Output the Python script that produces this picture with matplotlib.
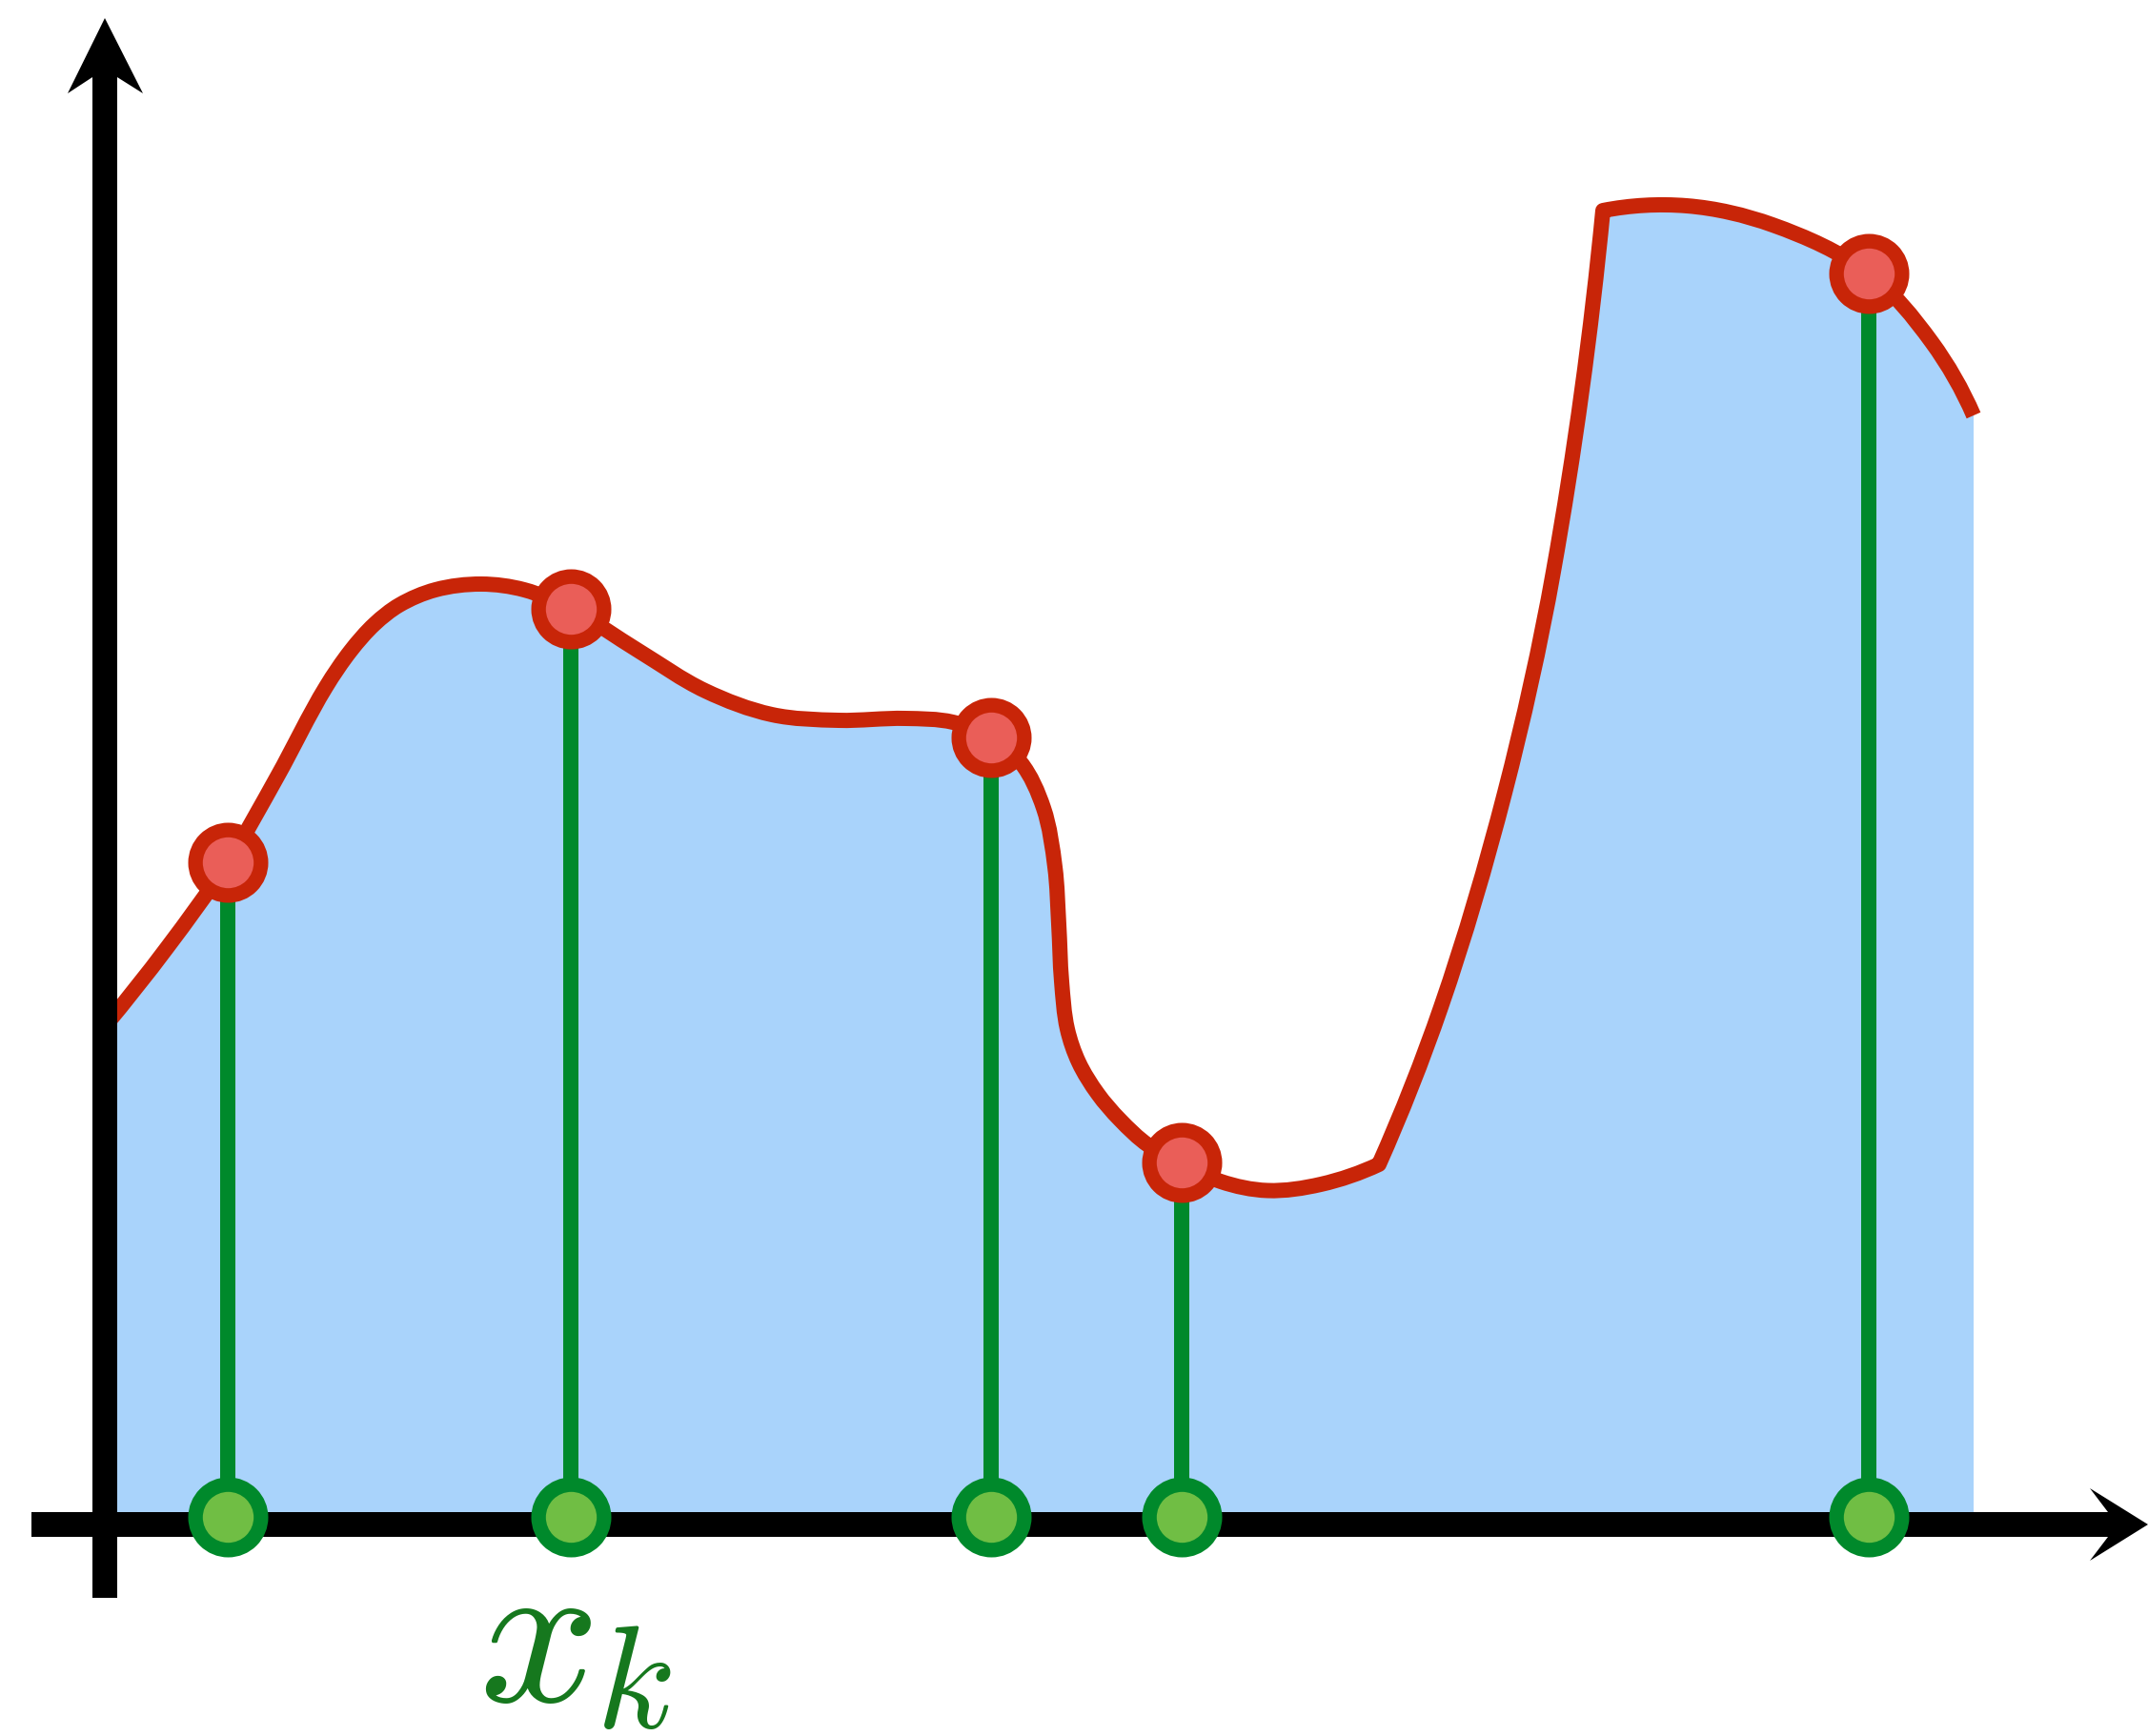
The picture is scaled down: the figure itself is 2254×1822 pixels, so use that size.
import math
import matplotlib
matplotlib.use("Agg")
import matplotlib.pyplot as plt
from matplotlib.patches import Polygon, PathPatch
from matplotlib.path import Path

plt.rcParams['mathtext.fontset'] = 'cm'

# ---- data (axis crossing at origin) ----
# smooth part of the function, up to the first kink
curve1_x = [0.00, 0.65, 1.29, 1.81, 2.32, 2.58, 2.83, 3.09, 3.47, 3.95, 4.40, 4.89,
            5.60, 6.30, 7.00, 7.70, 8.40, 8.90, 9.30, 9.61, 9.85, 9.97, 10.01,
            10.04, 10.10, 10.22, 10.42, 10.65, 10.95, 11.30, 11.71, 12.20, 12.76, 13.37]
curve1_y = [5.23, 6.05, 6.95, 7.85, 8.79, 9.17, 9.45, 9.65, 9.81, 9.87, 9.81, 9.61,
            9.17, 8.75, 8.50, 8.44, 8.46, 8.42, 8.26, 8.00, 7.52, 6.90, 6.30,
            5.70, 5.20, 4.85, 4.52, 4.25, 3.98, 3.80, 3.60, 3.505, 3.57, 3.78]
# steep rise between the two kinks
curve2_x = [13.37, 14.02, 14.69, 15.20, 15.72]
curve2_y = [3.78, 5.43, 7.68, 10.00, 13.79]
# final arc
curve3_x = [15.72, 16.60, 17.50, 18.51, 19.17, 19.61]
curve3_y = [13.79, 13.84, 13.64, 13.13, 12.41, 11.64]

# sample points x_k and f(x_k)
xk = [1.29, 4.89, 9.30, 11.30, 18.51]
fk = [6.95, 9.61, 8.26, 3.80, 13.13]
xk_base = 0.08

label_main = r'$x$'
label_sub = r'$k$'

# ---- colours ----
FILL = '#A9D3FB'
RED = '#C82508'
RED_FILL = '#EA5E58'
GREEN = '#00892B'
GREEN_FILL = '#70BE44'
LABEL_GREEN = '#16781E'

PX = 72 / 100.0  # points per pixel at dpi 100


def _unit(vx, vy):
    n = math.hypot(vx, vy)
    return vx / n, vy / n


def smooth_segment(xs, ys):
    """Bezier (CURVE4) pieces of a smooth path through the given points."""
    pts = list(zip(xs, ys))
    n = len(pts)
    chords = [_unit(pts[i + 1][0] - pts[i][0], pts[i + 1][1] - pts[i][1]) for i in range(n - 1)]
    lens = [math.hypot(pts[i + 1][0] - pts[i][0], pts[i + 1][1] - pts[i][1]) for i in range(n - 1)]
    tans = [None] * n
    for i in range(1, n - 1):
        tans[i] = _unit(chords[i - 1][0] + chords[i][0], chords[i - 1][1] + chords[i][1])
    if n > 2:
        u, t = chords[0], tans[1]
        d = u[0] * t[0] + u[1] * t[1]
        tans[0] = _unit(2 * u[0] * d - t[0], 2 * u[1] * d - t[1])
        u, t = chords[-1], tans[n - 2]
        d = u[0] * t[0] + u[1] * t[1]
        tans[-1] = _unit(2 * u[0] * d - t[0], 2 * u[1] * d - t[1])
    else:
        tans[0] = tans[1] = chords[0]
    verts, codes = [], []
    for i in range(n - 1):
        L = lens[i] / 3.0
        c1 = (pts[i][0] + tans[i][0] * L, pts[i][1] + tans[i][1] * L)
        c2 = (pts[i + 1][0] - tans[i + 1][0] * L, pts[i + 1][1] - tans[i + 1][1] * L)
        verts += [c1, c2, pts[i + 1]]
        codes += [Path.CURVE4] * 3
    return verts, codes


verts = [(curve1_x[0], curve1_y[0])]
codes = [Path.MOVETO]
for sx, sy in ((curve1_x, curve1_y), (curve2_x, curve2_y), (curve3_x, curve3_y)):
    v, c = smooth_segment(sx, sy)
    verts += v
    codes += c

fig = plt.figure(figsize=(22.54, 18.22), dpi=100)
ax = fig.add_axes([0, 0, 1, 1])
ax.set_xlim(-1.10, 21.44)
ax.set_ylim(-2.22, 16.00)
ax.axis('off')

fill_verts = verts + [(curve3_x[-1], 0), (curve1_x[0], 0), (curve1_x[0], 0)]
fill_codes = codes + [Path.LINETO, Path.LINETO, Path.CLOSEPOLY]
ax.add_patch(PathPatch(Path(fill_verts, fill_codes), facecolor=FILL,
                       edgecolor='none', zorder=1))
ax.add_patch(PathPatch(Path(verts, codes), facecolor='none', edgecolor=RED,
                       linewidth=16 * PX, joinstyle='round', capstyle='butt',
                       zorder=2))

for x, y in zip(xk, fk):
    ax.plot([x, x], [xk_base, y], color=GREEN, linewidth=16 * PX,
            solid_capstyle='butt', zorder=3)

# axes with arrows
ax.add_patch(Polygon([[-0.77, -0.13], [21.02, -0.13], [20.83, -0.38], [21.44, 0],
                      [20.83, 0.38], [21.02, 0.13], [-0.77, 0.13]],
                     closed=True, facecolor='black', edgecolor='none',
                     zorder=4, clip_on=False))
ax.add_patch(Polygon([[-0.13, -0.77], [0.13, -0.77], [0.13, 15.19], [0.40, 15.02],
                      [0, 15.81], [-0.39, 15.02], [-0.13, 15.19]],
                     closed=True, facecolor='black', edgecolor='none',
                     zorder=4, clip_on=False))

ax.plot(xk, [xk_base] * len(xk), linestyle='none', marker='o',
        markersize=68.7 * PX, markerfacecolor=GREEN_FILL,
        markeredgecolor=GREEN, markeredgewidth=15.3 * PX, zorder=5)
ax.plot(xk, fk, linestyle='none', marker='o',
        markersize=68.7 * PX, markerfacecolor=RED_FILL,
        markeredgecolor=RED, markeredgewidth=15.3 * PX, zorder=5)

ax.text(3.92, -1.86, label_main, color=LABEL_GREEN, fontsize=160,
        ha='left', va='baseline')
ax.text(5.15, -2.13, label_sub, color=LABEL_GREEN, fontsize=110,
        ha='left', va='baseline')

fig.savefig('out.png', dpi=100)
